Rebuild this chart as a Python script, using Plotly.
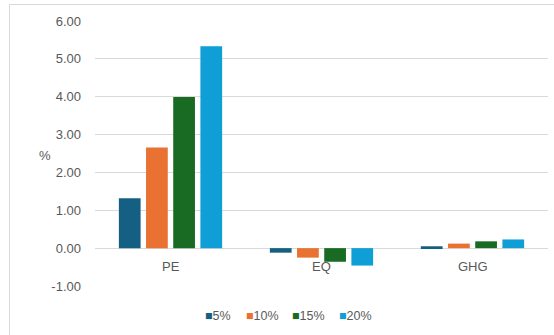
import plotly.graph_objects as go

categories = ["PE", "EQ", "GHG"]
series_names = ["5%", "10%", "15%", "20%"]
values_5 = [1.32, -0.12, 0.05]
values_10 = [2.66, -0.25, 0.12]
values_15 = [3.99, -0.36, 0.18]
values_20 = [5.33, -0.46, 0.23]
colors = ["#156082", "#E97132", "#196B24", "#0F9ED5"]
y_ticks = [-1, 0, 1, 2, 3, 4, 5, 6]
y_tick_labels = ["-1.00", "0.00", "1.00", "2.00", "3.00", "4.00", "5.00", "6.00"]

all_values = [values_5, values_10, values_15, values_20]
FONT = "Liberation Sans, Arial, sans-serif"
TXT = "#595959"
GRID = "#d9d9d9"

fig = go.Figure()
for name, vals, col in zip(series_names, all_values, colors):
    fig.add_trace(go.Bar(x=categories, y=vals, name=name, marker_color=col,
                         marker_line_width=0, showlegend=False))

W, H = 554, 335
L, R, T, B = 95, 6, 21, 49
pw, ph = W - L - R, H - T - B

def px_to_paper_x(px):
    return (px - L) / pw

def px_to_paper_y(py):
    return (H - B - py) / ph

# category labels next to the zero line
for c in categories:
    fig.add_annotation(x=c, y=0, xref="x", yref="y", text=c, showarrow=False,
                       yanchor="top", yshift=-9, font=dict(family=FONT, size=13, color=TXT))

# axis title "%"
fig.add_annotation(x=px_to_paper_x(37), y=px_to_paper_y(155), xref="paper", yref="paper",
                   text="%", showarrow=False, font=dict(family=FONT, size=13, color=TXT))

# legend
legend_x = [203, 244, 290, 337]
for name, col, lx in zip(series_names, colors, legend_x):
    fig.add_annotation(x=px_to_paper_x(lx), y=px_to_paper_y(316), xref="paper", yref="paper",
                       xanchor="left", yanchor="middle", showarrow=False,
                       text=f"<span style='color:{col}'>■</span>{name}",
                       font=dict(family=FONT, size=12.5, color=TXT))

# chart border (cropped at right and bottom)
fig.add_shape(type="rect", xref="paper", yref="paper",
              x0=px_to_paper_x(9.5), x1=px_to_paper_x(600),
              y0=px_to_paper_y(400), y1=px_to_paper_y(4.5),
              line=dict(color=GRID, width=1), layer="below")

fig.update_layout(
    width=W, height=H,
    margin=dict(l=L, r=R, t=T, b=B),
    paper_bgcolor="white", plot_bgcolor="white",
    barmode="group", bargap=0.28, bargroupgap=0.2,
    font=dict(family=FONT, size=13, color=TXT),
)
fig.update_xaxes(showticklabels=False, showgrid=False, zeroline=False, showline=False)
fig.update_yaxes(range=[-1, 6], tickvals=y_ticks, ticktext=y_tick_labels,
                 showgrid=True, gridcolor=GRID, gridwidth=1,
                 zeroline=True, zerolinecolor=GRID, zerolinewidth=1,
                 showline=False, ticks="", ticklabelstandoff=13,
                 tickfont=dict(family=FONT, size=13, color=TXT))

fig.write_html("out.html")
